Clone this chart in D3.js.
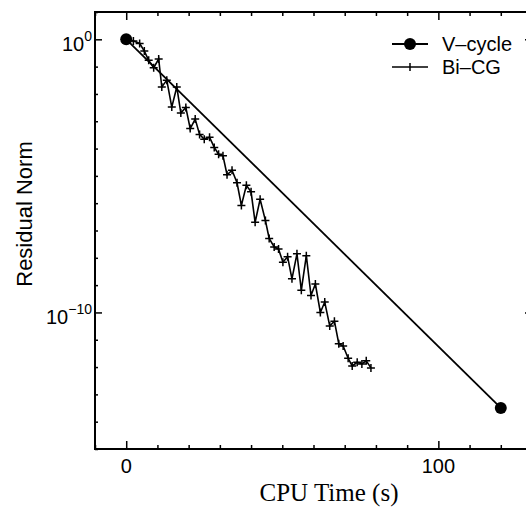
<!DOCTYPE html>
<html lang="en">
<head>
   <meta charset="UTF-8">
   <title>Residual norm vs CPU time</title>
   <script src="https://d3js.org/d3.v7.min.js"></script>
   <style>
      body { margin: 0; background: #fff; }
   </style>
</head>
<body>
   <script>

      // V-cycle: only the two end points are marked
      const vcycleTime = [0, 120];
      const vcycleResidual = [1, 3.2e-14];

      // Bi-CG, one point per iteration
      const bicgTime = [0, 2.3, 4.3, 5.8, 7.2, 8.8, 10.4, 11.4, 13.0, 14.6, 16.2, 17.5, 19.1, 20.5,
         22.1, 23.5, 25.0, 26.7, 28.2, 29.6, 31.0, 32.3, 33.9, 35.5, 36.9, 38.5, 40.0, 41.3,
         42.9, 44.6, 45.8, 47.4, 48.8, 50.2, 51.7, 53.1, 54.7, 56.1, 57.7, 59.2, 60.6, 62.2,
         63.6, 65.2, 66.7, 68.1, 69.5, 71.1, 72.4, 74.0, 75.5, 76.9, 78.4];
      const bicgResidual = [1, 0.87, 0.71, 0.37, 0.17, 0.091, 0.19, 0.018, 0.032, 3.3e-3, 0.018, 2.0e-3,
         3.2e-3, 5.4e-4, 1.2e-3, 3.3e-4, 2.2e-4, 2.6e-4, 1.1e-4, 6.2e-5, 5.4e-5, 1.1e-5, 1.6e-5,
         5.6e-6, 8.3e-7, 4.5e-6, 2.6e-6, 2.0e-7, 1.4e-6, 2.3e-7, 5.1e-8, 2.5e-8, 2.1e-8, 6.9e-9,
         1.1e-8, 1.7e-9, 1.4e-8, 6.5e-10, 1.2e-8, 4.2e-10, 1.1e-9, 1.0e-10, 2.4e-10, 3.2e-11,
         4.8e-11, 7.2e-12, 5.9e-12, 2.1e-12, 1.1e-12, 1.5e-12, 1.3e-12, 1.7e-12, 9.3e-13];

      const xMajorTicks = [0, 100];
      const xMinorTicks = [-10, 10, 20, 30, 40, 50, 60, 70, 80, 90, 110, 120, 130];
      const yMajorTicks = [1, 1e-10];
      const yMajorExp = ['0', '\u221210'];
      const yMinorTicks = [10, 1e-1, 1e-2, 1e-3, 1e-4, 1e-5, 1e-6, 1e-7, 1e-8, 1e-9,
         1e-11, 1e-12, 1e-13, 1e-14, 1e-15];

      const W = 526, H = 508;
      const m = { left: 95, right: 532, top: 12, bottom: 449 };

      const svg = d3.select('body').append('svg').attr('width', W).attr('height', H);

      const x = d3.scaleLinear().domain([-10, 130]).range([m.left, m.right]);
      const y = d3.scaleLog().domain([1e-15, 10]).range([m.bottom, m.top]);

      // axes: ticks point inward, long ones for the labelled values
      const drawAxis = (axis, transform) => {
         const g = svg.append('g').attr('transform', transform).call(axis);
         g.select('.domain').remove();
         g.selectAll('line').attr('stroke', '#000').attr('stroke-width', 1.5);
         g.selectAll('text').remove();
      };
      drawAxis(d3.axisBottom(x).tickValues(xMajorTicks).tickSize(-8), `translate(0,${m.bottom})`);
      drawAxis(d3.axisBottom(x).tickValues(xMinorTicks).tickSize(-4), `translate(0,${m.bottom})`);
      drawAxis(d3.axisTop(x).tickValues(xMajorTicks).tickSize(-8), `translate(0,${m.top})`);
      drawAxis(d3.axisTop(x).tickValues(xMinorTicks).tickSize(-4), `translate(0,${m.top})`);
      drawAxis(d3.axisLeft(y).tickValues(yMajorTicks).tickSize(-7), `translate(${m.left},0)`);
      drawAxis(d3.axisLeft(y).tickValues(yMinorTicks).tickSize(-3), `translate(${m.left},0)`);
      drawAxis(d3.axisRight(y).tickValues(yMajorTicks).tickSize(-7), `translate(${m.right},0)`);
      drawAxis(d3.axisRight(y).tickValues(yMinorTicks).tickSize(-3), `translate(${m.right},0)`);

      svg.append('rect')
         .attr('x', m.left).attr('y', m.top)
         .attr('width', m.right - m.left).attr('height', m.bottom - m.top)
         .attr('fill', 'none').attr('stroke', '#000').attr('stroke-width', 2);

      // tick labels
      svg.selectAll('.xlab').data(xMajorTicks).enter().append('text')
         .attr('x', d => x(d)).attr('y', m.bottom + 24)
         .attr('text-anchor', 'middle')
         .attr('font-family', 'Liberation Sans, Arial, sans-serif').attr('font-size', 20)
         .text(d => d);

      const ylab = svg.selectAll('.ylab').data(yMajorTicks).enter().append('text')
         .attr('x', m.left - 3).attr('y', d => y(d) + 12)
         .attr('text-anchor', 'end')
         .attr('font-family', 'Liberation Sans, Arial, sans-serif').attr('font-size', 20);
      ylab.append('tspan').text('10');
      ylab.append('tspan').attr('font-size', 14).attr('dy', -10).text((d, i) => yMajorExp[i]);

      // axis titles
      svg.append('text')
         .attr('x', 329).attr('y', 501)
         .attr('text-anchor', 'middle')
         .attr('font-family', 'Liberation Serif, Times New Roman, serif').attr('font-size', 25)
         .text('CPU Time (s)');

      svg.append('text')
         .attr('transform', 'translate(32,214) rotate(-90)')
         .attr('text-anchor', 'middle')
         .attr('font-family', 'Liberation Sans, Arial, sans-serif').attr('font-size', 22)
         .text('Residual Norm');

      // series
      const vcycle = vcycleTime.map((t, i) => [t, vcycleResidual[i]]);
      const bicg = bicgTime.map((t, i) => [t, bicgResidual[i]]);
      const line = d3.line().x(d => x(d[0])).y(d => y(d[1]));

      svg.append('path').datum(vcycle).attr('d', line)
         .attr('fill', 'none').attr('stroke', '#000').attr('stroke-width', 1.8);
      svg.append('path').datum(bicg).attr('d', line)
         .attr('fill', 'none').attr('stroke', '#000').attr('stroke-width', 1.6);

      svg.selectAll('.plus').data(bicg).enter().append('path')
         .attr('d', d => `M${x(d[0]) - 4},${y(d[1])}h8M${x(d[0])},${y(d[1]) - 4}v8`)
         .attr('stroke', '#000').attr('stroke-width', 1.5);

      svg.selectAll('.dot').data(vcycle).enter().append('circle')
         .attr('cx', d => x(d[0])).attr('cy', d => y(d[1])).attr('r', 6)
         .attr('fill', '#000');

      // legend
      const legend = svg.append('g').attr('transform', 'translate(392,44)');
      legend.append('line').attr('x1', 0).attr('x2', 36).attr('y1', 0).attr('y2', 0)
         .attr('stroke', '#000').attr('stroke-width', 1.8);
      legend.append('circle').attr('cx', 18).attr('cy', 0).attr('r', 6).attr('fill', '#000');
      legend.append('text').attr('x', 50).attr('y', 7)
         .attr('font-family', 'Liberation Sans, Arial, sans-serif').attr('font-size', 20)
         .text('V\u2013cycle');
      legend.append('line').attr('x1', 0).attr('x2', 36).attr('y1', 23).attr('y2', 23)
         .attr('stroke', '#000').attr('stroke-width', 1.5);
      legend.append('line').attr('x1', 18).attr('x2', 18).attr('y1', 19).attr('y2', 27)
         .attr('stroke', '#000').attr('stroke-width', 1.5);
      legend.append('text').attr('x', 50).attr('y', 30)
         .attr('font-family', 'Liberation Sans, Arial, sans-serif').attr('font-size', 20)
         .text('Bi\u2013CG');

   </script>
</body>
</html>
